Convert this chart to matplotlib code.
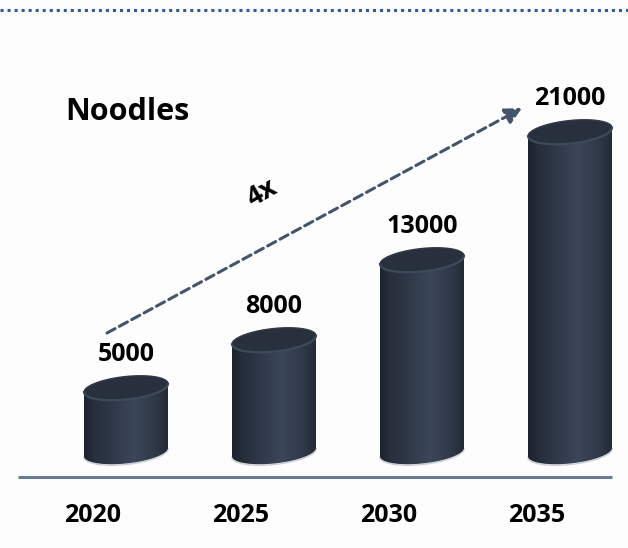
import numpy as np
import matplotlib
matplotlib.use("Agg")
import matplotlib.pyplot as plt
from matplotlib.colors import LinearSegmentedColormap
from matplotlib.patches import Polygon

years = ["2020", "2025", "2030", "2035"]
values = [5000, 8000, 13000, 21000]
title = "Noodles"
growth = "4x"

plt.rcParams['font.family'] = ['Open Sans', 'DejaVu Sans']

W, H = 628, 548
fig = plt.figure(figsize=(W / 100, H / 100), dpi=100)
fig.patch.set_facecolor("#fdfdfd")
ax = fig.add_axes([0, 0, 1, 1])
ax.set_facecolor("#fdfdfd")

# layout: 148 px between bars, 62.5 value units per px
px_x = 148.0
px_y = 62.5
base = 1000
ax.set_xlim(-126 / px_x, (W - 126) / px_x)
ax.set_ylim(-5000, 29250)
ax.axis("off")

def ux(p):
    return p / px_x

def uy(p):
    return p * px_y

A = ux(42)      # half width
B = uy(11.5)    # ellipse half height
S = uy(0.1 * 42)   # tilt (right side higher)

body_cmap = LinearSegmentedColormap.from_list(
    "cyl", [(0, "#1d232e"), (0.12, "#262e3b"), (0.6, "#3b4659"),
            (0.85, "#303948"), (1.0, "#232a36")])

t = np.linspace(0, 2 * np.pi, 200)

def ell(cx, cy, tt):
    return np.column_stack([cx + A * np.cos(tt), cy + B * np.sin(tt) + S * np.cos(tt)])

for i, v in enumerate(values):
    lower = ell(i, base, np.linspace(np.pi, 2 * np.pi, 100))
    upper = ell(i, v, np.linspace(0, np.pi, 100))
    body = Polygon(np.vstack([lower, upper]), closed=True, facecolor="none",
                   edgecolor="none")
    ax.add_patch(body)
    grad = np.linspace(0, 1, 256).reshape(1, -1)
    im = ax.imshow(grad, cmap=body_cmap, aspect="auto",
                   extent=[i - A, i + A, base - B - S, v + B + S],
                   zorder=2, interpolation="bilinear")
    im.set_clip_path(body)
    # soft shadow on bottom rim
    ax.plot(lower[:, 0], lower[:, 1] - uy(1), color="#a9b0b9", lw=1.0,
            alpha=0.6, zorder=1)
    # top face
    top = ell(i, v, t)
    ax.add_patch(Polygon(top, closed=True, facecolor="#28303c",
                         edgecolor="none", zorder=3))
    front = ell(i, v, np.linspace(np.pi, 2 * np.pi, 100))
    ax.plot(front[:, 0], front[:, 1], color="#3e4a5d", lw=1.5, zorder=4)
    back = ell(i, v, np.linspace(0, np.pi, 100))
    ax.plot(back[:, 0], back[:, 1], color="#323b4a", lw=1.0, zorder=4)

    ax.annotate(f"{v}", (i, v), xytext=(0, 24), textcoords="offset points",
                ha="center", va="center", fontsize=18, fontweight="bold",
                color="#000000", zorder=5)

# year labels
for i, yr in enumerate(years):
    ax.text(i - ux(33), base - uy(63), yr, ha="center", va="center",
            fontsize=18, fontweight="bold", color="#000000")

# baseline
ax.plot([ux(18 - 126), ux(612 - 126)], [base - uy(25)] * 2,
        color="#687c96", lw=2.2, solid_capstyle="butt", zorder=1)

# top dotted rule
ax.plot([ux(-126), ux(W - 126)], [base + uy(442)] * 2, color="#32579a",
        lw=2.2, linestyle=(0, (1, 1.3)), solid_capstyle="butt")

# title
ax.text(ux(65 - 126), base + uy(340), title, ha="left", va="center",
        fontsize=22, fontweight="bold", color="#000000")

# growth arrow
x0, y0 = ux(107 - 126), base + uy(452 - 333)
x1, y1 = ux(522 - 126), base + uy(452 - 108)
ax.annotate("", xy=(x1, y1), xytext=(x0, y0),
            arrowprops=dict(arrowstyle="-|>,head_length=1.0,head_width=0.5",
                            color="#44546a", lw=2.2, linestyle=(0, (3, 1.6)),
                            shrinkA=0, shrinkB=0))
ax.text(ux(262 - 126), base + uy(452 - 193), growth, ha="center", va="center",
        rotation=30, fontsize=19, fontweight="bold", color="#000000")

fig.savefig("out.png", dpi=100, facecolor=fig.get_facecolor())
